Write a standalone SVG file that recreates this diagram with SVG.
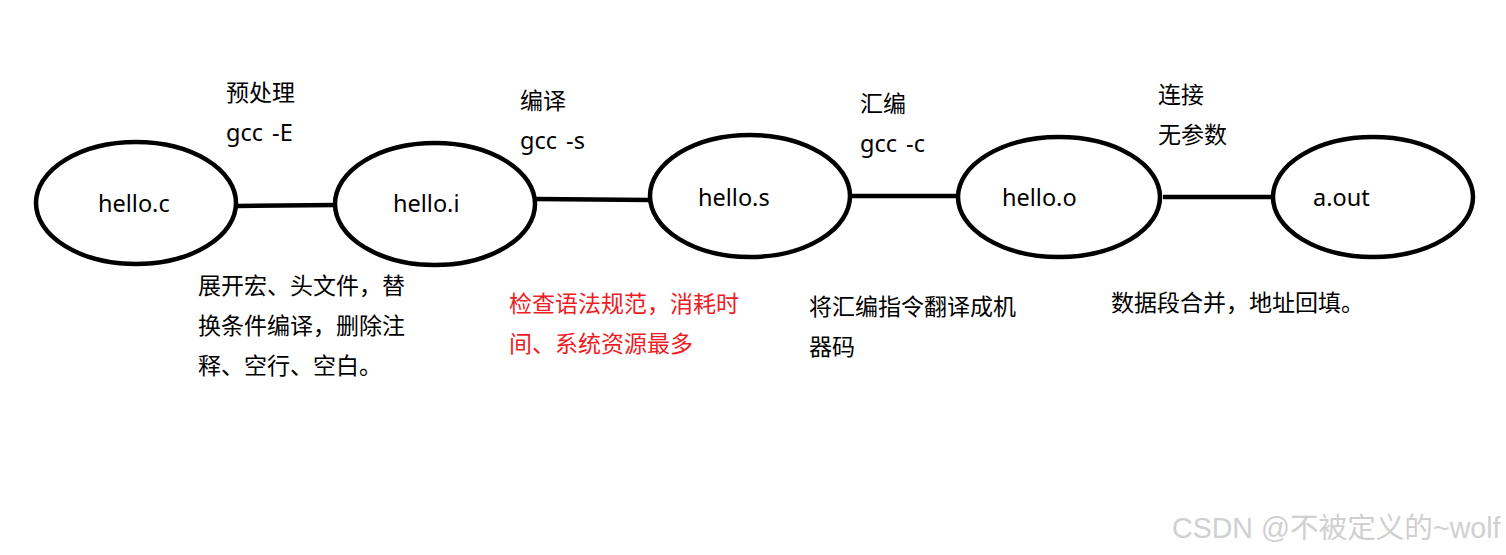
<svg xmlns="http://www.w3.org/2000/svg" width="1506" height="555" viewBox="0 0 1506 555">
<style>
.node ellipse{fill:none;stroke:#000;stroke-width:4.5}
.conn line{stroke:#000;stroke-width:4.5}
.lbl{font-family:"Noto Sans","Noto Sans CJK SC",sans-serif;font-size:23.5px;fill:#000}
.cmd{word-spacing:3px}
.cn{font-family:"Noto Sans CJK SC","Noto Sans",sans-serif;font-size:23px;fill:#000}
.red{fill:#ee1c25}
.wm{font-family:"Liberation Sans","Noto Sans CJK SC",sans-serif;font-size:28.6px;fill:#d0d0d0}
</style>
<rect width="1506" height="555" fill="#fff"/>
<g id="connectors" class="conn">
<line x1="237" y1="206" x2="336" y2="205"/>
<line x1="536" y1="199" x2="651" y2="200"/>
<line x1="850" y1="196" x2="959" y2="196"/>
<line x1="1163" y1="197" x2="1274" y2="197"/>
</g>
<g id="hello_c" class="node">
<ellipse cx="136" cy="203" rx="100" ry="61"/>
<text class="lbl" x="98" y="212">hello.c</text>
</g>
<g id="hello_i" class="node">
<ellipse cx="435" cy="204" rx="100" ry="61"/>
<text class="lbl" x="393" y="212">hello.i</text>
</g>
<g id="hello_s" class="node">
<ellipse cx="750" cy="196" rx="100" ry="61"/>
<text class="lbl" x="698" y="206">hello.s</text>
</g>
<g id="hello_o" class="node">
<ellipse cx="1059" cy="197" rx="101" ry="60"/>
<text class="lbl" x="1002" y="206">hello.o</text>
</g>
<g id="a_out" class="node">
<ellipse cx="1373" cy="197" rx="100" ry="60"/>
<text class="lbl" x="1313" y="206">a.out</text>
</g>
<g id="labels">
<text class="cn" x="226" y="101">预处理</text>
<text class="lbl cmd" x="226" y="141">gcc -E</text>
<text class="cn" x="520" y="109">编译</text>
<text class="lbl cmd" x="520" y="149">gcc -s</text>
<text class="cn" x="860" y="112">汇编</text>
<text class="lbl cmd" x="860" y="152">gcc -c</text>
<text class="cn" x="1158" y="103">连接</text>
<text class="cn" x="1158" y="143">无参数</text>
<text class="cn" x="198" y="294">展开宏、头文件，替</text>
<text class="cn" x="198" y="334">换条件编译，删除注</text>
<text class="cn" x="198" y="374">释、空行、空白。</text>
<text class="cn red" x="509" y="312">检查语法规范，消耗时</text>
<text class="cn red" x="509" y="352">间、系统资源最多</text>
<text class="cn" x="809" y="315">将汇编指令翻译成机</text>
<text class="cn" x="809" y="355">器码</text>
<text class="cn" x="1111" y="311">数据段合并，地址回填。</text>
</g>
<text class="wm" x="1172" y="538">CSDN @不被定义的~wolf</text>
</svg>
